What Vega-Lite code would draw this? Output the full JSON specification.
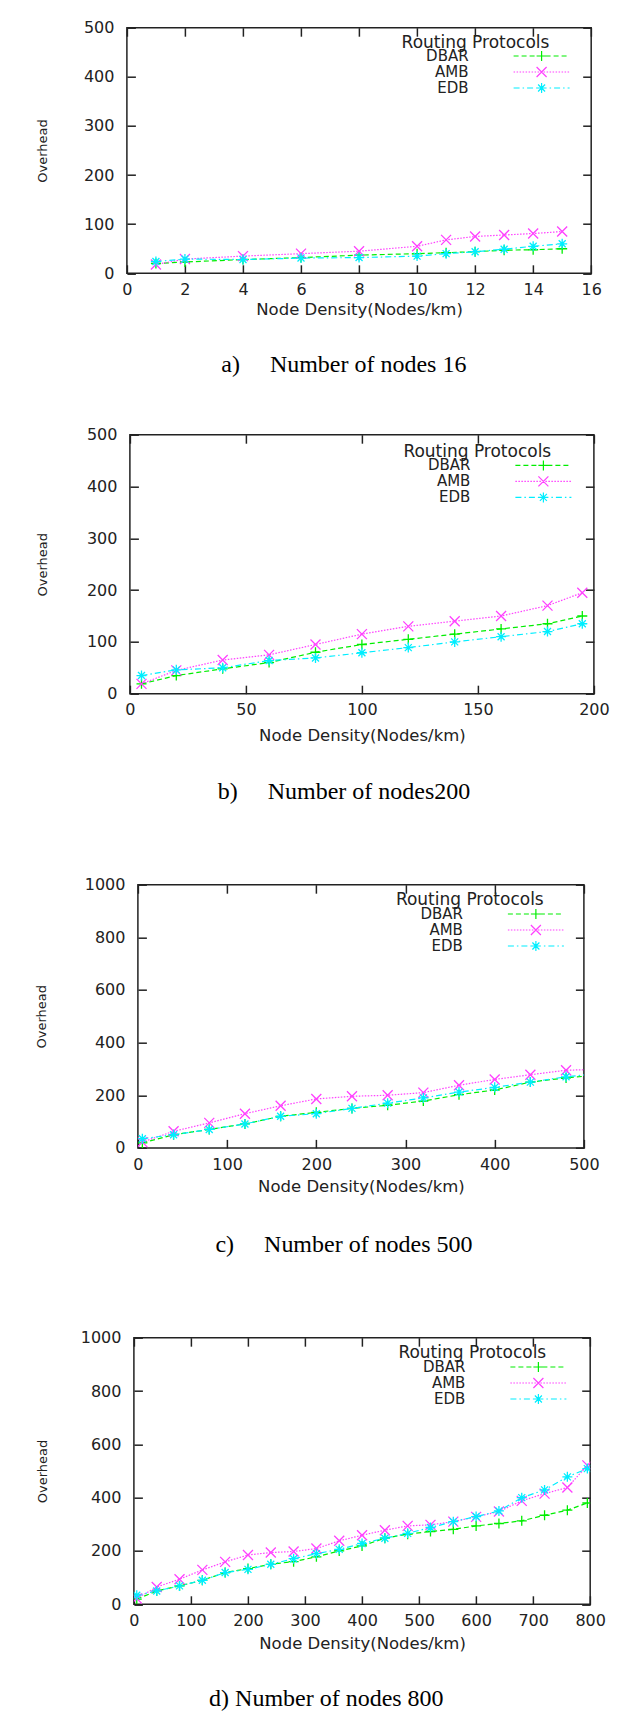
{
  "$schema": "https://vega.github.io/schema/vega-lite/v6.json",
  "background": "white",
  "padding": {"left": 24.9, "top": 18.7, "right": 5, "bottom": 0},
  "spacing": 47,
  "resolve": {"scale": {"color": "independent"}, "legend": {"color": "independent"}},
  "datasets": {
    "a": [
      {"protocol": "DBAR", "density": 1, "overhead": 20}, {"protocol": "DBAR", "density": 2, "overhead": 23}, {"protocol": "DBAR", "density": 4, "overhead": 28}, {"protocol": "DBAR", "density": 6, "overhead": 32}, {"protocol": "DBAR", "density": 8, "overhead": 37}, {"protocol": "DBAR", "density": 10, "overhead": 40}, {"protocol": "DBAR", "density": 11, "overhead": 42}, {"protocol": "DBAR", "density": 12, "overhead": 44}, {"protocol": "DBAR", "density": 13, "overhead": 47}, {"protocol": "DBAR", "density": 14, "overhead": 48}, {"protocol": "DBAR", "density": 15, "overhead": 50},
      {"protocol": "AMB", "density": 1, "overhead": 18}, {"protocol": "AMB", "density": 2, "overhead": 29}, {"protocol": "AMB", "density": 4, "overhead": 35}, {"protocol": "AMB", "density": 6, "overhead": 40}, {"protocol": "AMB", "density": 8, "overhead": 45}, {"protocol": "AMB", "density": 10, "overhead": 55}, {"protocol": "AMB", "density": 11, "overhead": 68}, {"protocol": "AMB", "density": 12, "overhead": 75}, {"protocol": "AMB", "density": 13, "overhead": 78}, {"protocol": "AMB", "density": 14, "overhead": 81}, {"protocol": "AMB", "density": 15, "overhead": 85},
      {"protocol": "EDB", "density": 1, "overhead": 24}, {"protocol": "EDB", "density": 2, "overhead": 29}, {"protocol": "EDB", "density": 4, "overhead": 28}, {"protocol": "EDB", "density": 6, "overhead": 31}, {"protocol": "EDB", "density": 8, "overhead": 32}, {"protocol": "EDB", "density": 10, "overhead": 35}, {"protocol": "EDB", "density": 11, "overhead": 40}, {"protocol": "EDB", "density": 12, "overhead": 44}, {"protocol": "EDB", "density": 13, "overhead": 49}, {"protocol": "EDB", "density": 14, "overhead": 55}, {"protocol": "EDB", "density": 15, "overhead": 60}
    ],
    "b": [
      {"protocol": "DBAR", "density": 5, "overhead": 19}, {"protocol": "DBAR", "density": 20, "overhead": 35}, {"protocol": "DBAR", "density": 40, "overhead": 48}, {"protocol": "DBAR", "density": 60, "overhead": 60}, {"protocol": "DBAR", "density": 80, "overhead": 80}, {"protocol": "DBAR", "density": 100, "overhead": 95}, {"protocol": "DBAR", "density": 120, "overhead": 105}, {"protocol": "DBAR", "density": 140, "overhead": 115}, {"protocol": "DBAR", "density": 160, "overhead": 125}, {"protocol": "DBAR", "density": 180, "overhead": 135}, {"protocol": "DBAR", "density": 195, "overhead": 150},
      {"protocol": "AMB", "density": 5, "overhead": 19}, {"protocol": "AMB", "density": 20, "overhead": 45}, {"protocol": "AMB", "density": 40, "overhead": 65}, {"protocol": "AMB", "density": 60, "overhead": 75}, {"protocol": "AMB", "density": 80, "overhead": 95}, {"protocol": "AMB", "density": 100, "overhead": 115}, {"protocol": "AMB", "density": 120, "overhead": 130}, {"protocol": "AMB", "density": 140, "overhead": 140}, {"protocol": "AMB", "density": 160, "overhead": 150}, {"protocol": "AMB", "density": 180, "overhead": 170}, {"protocol": "AMB", "density": 195, "overhead": 195},
      {"protocol": "EDB", "density": 5, "overhead": 35}, {"protocol": "EDB", "density": 20, "overhead": 46}, {"protocol": "EDB", "density": 40, "overhead": 50}, {"protocol": "EDB", "density": 60, "overhead": 64}, {"protocol": "EDB", "density": 80, "overhead": 69}, {"protocol": "EDB", "density": 100, "overhead": 79}, {"protocol": "EDB", "density": 120, "overhead": 89}, {"protocol": "EDB", "density": 140, "overhead": 100}, {"protocol": "EDB", "density": 160, "overhead": 110}, {"protocol": "EDB", "density": 180, "overhead": 120}, {"protocol": "EDB", "density": 195, "overhead": 135}
    ],
    "c": [
      {"protocol": "DBAR", "density": 5, "overhead": 19}, {"protocol": "DBAR", "density": 40, "overhead": 50}, {"protocol": "DBAR", "density": 80, "overhead": 70}, {"protocol": "DBAR", "density": 120, "overhead": 91}, {"protocol": "DBAR", "density": 160, "overhead": 120}, {"protocol": "DBAR", "density": 200, "overhead": 135}, {"protocol": "DBAR", "density": 240, "overhead": 150}, {"protocol": "DBAR", "density": 280, "overhead": 162}, {"protocol": "DBAR", "density": 320, "overhead": 178}, {"protocol": "DBAR", "density": 360, "overhead": 202}, {"protocol": "DBAR", "density": 400, "overhead": 220}, {"protocol": "DBAR", "density": 440, "overhead": 250}, {"protocol": "DBAR", "density": 480, "overhead": 266}, {"protocol": "DBAR", "density": 520, "overhead": 278},
      {"protocol": "AMB", "density": 5, "overhead": 22}, {"protocol": "AMB", "density": 40, "overhead": 63}, {"protocol": "AMB", "density": 80, "overhead": 95}, {"protocol": "AMB", "density": 120, "overhead": 130}, {"protocol": "AMB", "density": 160, "overhead": 160}, {"protocol": "AMB", "density": 200, "overhead": 186}, {"protocol": "AMB", "density": 240, "overhead": 196}, {"protocol": "AMB", "density": 280, "overhead": 200}, {"protocol": "AMB", "density": 320, "overhead": 210}, {"protocol": "AMB", "density": 360, "overhead": 238}, {"protocol": "AMB", "density": 400, "overhead": 260}, {"protocol": "AMB", "density": 440, "overhead": 278}, {"protocol": "AMB", "density": 480, "overhead": 295}, {"protocol": "AMB", "density": 520, "overhead": 299},
      {"protocol": "EDB", "density": 5, "overhead": 35}, {"protocol": "EDB", "density": 40, "overhead": 50}, {"protocol": "EDB", "density": 80, "overhead": 70}, {"protocol": "EDB", "density": 120, "overhead": 91}, {"protocol": "EDB", "density": 160, "overhead": 120}, {"protocol": "EDB", "density": 200, "overhead": 130}, {"protocol": "EDB", "density": 240, "overhead": 150}, {"protocol": "EDB", "density": 280, "overhead": 170}, {"protocol": "EDB", "density": 320, "overhead": 190}, {"protocol": "EDB", "density": 360, "overhead": 212}, {"protocol": "EDB", "density": 400, "overhead": 230}, {"protocol": "EDB", "density": 440, "overhead": 250}, {"protocol": "EDB", "density": 480, "overhead": 270}, {"protocol": "EDB", "density": 520, "overhead": 284}
    ],
    "d": [
      {"protocol": "DBAR", "density": 5, "overhead": 19}, {"protocol": "DBAR", "density": 40, "overhead": 50}, {"protocol": "DBAR", "density": 80, "overhead": 69}, {"protocol": "DBAR", "density": 120, "overhead": 90}, {"protocol": "DBAR", "density": 160, "overhead": 119}, {"protocol": "DBAR", "density": 200, "overhead": 134}, {"protocol": "DBAR", "density": 240, "overhead": 150}, {"protocol": "DBAR", "density": 280, "overhead": 160}, {"protocol": "DBAR", "density": 320, "overhead": 178}, {"protocol": "DBAR", "density": 360, "overhead": 200}, {"protocol": "DBAR", "density": 400, "overhead": 219}, {"protocol": "DBAR", "density": 440, "overhead": 248}, {"protocol": "DBAR", "density": 480, "overhead": 263}, {"protocol": "DBAR", "density": 520, "overhead": 273}, {"protocol": "DBAR", "density": 560, "overhead": 281}, {"protocol": "DBAR", "density": 600, "overhead": 294}, {"protocol": "DBAR", "density": 640, "overhead": 303}, {"protocol": "DBAR", "density": 680, "overhead": 313}, {"protocol": "DBAR", "density": 720, "overhead": 334}, {"protocol": "DBAR", "density": 760, "overhead": 353}, {"protocol": "DBAR", "density": 795, "overhead": 380},
      {"protocol": "AMB", "density": 5, "overhead": 22}, {"protocol": "AMB", "density": 40, "overhead": 65}, {"protocol": "AMB", "density": 80, "overhead": 94}, {"protocol": "AMB", "density": 120, "overhead": 129}, {"protocol": "AMB", "density": 160, "overhead": 159}, {"protocol": "AMB", "density": 200, "overhead": 185}, {"protocol": "AMB", "density": 240, "overhead": 194}, {"protocol": "AMB", "density": 280, "overhead": 198}, {"protocol": "AMB", "density": 320, "overhead": 209}, {"protocol": "AMB", "density": 360, "overhead": 238}, {"protocol": "AMB", "density": 400, "overhead": 259}, {"protocol": "AMB", "density": 440, "overhead": 278}, {"protocol": "AMB", "density": 480, "overhead": 294}, {"protocol": "AMB", "density": 520, "overhead": 298}, {"protocol": "AMB", "density": 560, "overhead": 310}, {"protocol": "AMB", "density": 600, "overhead": 328}, {"protocol": "AMB", "density": 640, "overhead": 348}, {"protocol": "AMB", "density": 680, "overhead": 388}, {"protocol": "AMB", "density": 720, "overhead": 415}, {"protocol": "AMB", "density": 760, "overhead": 438}, {"protocol": "AMB", "density": 795, "overhead": 521},
      {"protocol": "EDB", "density": 5, "overhead": 34}, {"protocol": "EDB", "density": 40, "overhead": 50}, {"protocol": "EDB", "density": 80, "overhead": 69}, {"protocol": "EDB", "density": 120, "overhead": 90}, {"protocol": "EDB", "density": 160, "overhead": 119}, {"protocol": "EDB", "density": 200, "overhead": 131}, {"protocol": "EDB", "density": 240, "overhead": 150}, {"protocol": "EDB", "density": 280, "overhead": 171}, {"protocol": "EDB", "density": 320, "overhead": 190}, {"protocol": "EDB", "density": 360, "overhead": 206}, {"protocol": "EDB", "density": 400, "overhead": 228}, {"protocol": "EDB", "density": 440, "overhead": 248}, {"protocol": "EDB", "density": 480, "overhead": 266}, {"protocol": "EDB", "density": 520, "overhead": 288}, {"protocol": "EDB", "density": 560, "overhead": 310}, {"protocol": "EDB", "density": 600, "overhead": 329}, {"protocol": "EDB", "density": 640, "overhead": 350}, {"protocol": "EDB", "density": 680, "overhead": 400}, {"protocol": "EDB", "density": 720, "overhead": 429}, {"protocol": "EDB", "density": 760, "overhead": 478}, {"protocol": "EDB", "density": 795, "overhead": 509}
    ]
  },
  "vconcat": [
    {
      "spacing": 0,
      "resolve": {"scale": {"color": "independent"}, "legend": {"color": "independent"}},
      "hconcat": [
        {"width": 10, "height": 1, "data": {"values": []}, "mark": {"type": "point"}, "view": {"stroke": null}},
        {
          "width": 464.3, "height": 245.6,
          "data": {"name": "a"},
          "title": {"text": "a)\u00a0\u00a0\u00a0\u00a0\u00a0Number of nodes 16", "dx": -15.2, "offset": 35.8},
          "resolve": {"axis": {"x": "independent", "y": "independent"}},
          "encoding": {
            "color": {"field": "protocol", "type": "nominal", "scale": {"domain": ["DBAR", "AMB", "EDB"], "range": ["#00ee00", "#ff40ff", "#00eeff"]},
              "legend": {"title": "Routing Protocols", "orient": "none", "legendX": 274.7, "legendY": 6.8, "encode": {"symbols": {"update": {"shape": {"signal": "datum.value === 'DBAR' ? 'M-1.5,0H-0.5M0.1,0H1.1M1.7,0H2.7M3.3,0H4.3M4.9,0H5.9M6.5,0H7.5M8.1,0H9.1M3.1,0H5.1M4.1,-1V1' : datum.value === 'AMB' ? 'M-1.5,0H-1.2M-0.9,0H-0.6M-0.3,0H0M0.3,0H0.6M0.9,0H1.2M1.5,0H1.8M2.1,0H2.4M2.7,0H3M3.3,0H3.6M3.9,0H4.2M4.5,0H4.8M5.1,0H5.4M5.7,0H6M6.3,0H6.6M6.9,0H7.2M7.5,0H7.8M8.1,0H8.4M8.7,0H9M9.3,0H9.6M3.1,-1L5.1,1M3.1,1L5.1,-1' : 'M-1.5,0H-0.3M0.3,0H0.6M1.2,0H2.4M3,0H3.3M3.9,0H5.1M5.7,0H6M6.6,0H7.8M8.4,0H8.7M9.3,0H9.7M3.1,0H5.1M4.1,-1V1M3.4,-0.7L4.8,0.7M3.4,0.7L4.8,-0.7'"}}}, "title": {"update": {"dx": {"value": -112}}}}}
            }
          },
          "layer": [
            {"mark": {"type": "line", "strokeWidth": 1.2, "clip": true},
             "encoding": {
               "x": {"field": "density", "type": "quantitative", "scale": {"domain": [0, 16], "nice": false}, "axis": {"values": [0, 2, 4, 6, 8, 10, 12, 14, 16], "title": "Node Density(Nodes/km)", "titlePadding": 3.5}},
               "y": {"field": "overhead", "type": "quantitative", "scale": {"domain": [0, 500], "nice": false}, "axis": {"values": [0, 100, 200, 300, 400, 500], "format": "d", "title": "Overhead", "titlePadding": 33.9}},
               "strokeDash": {"field": "protocol", "type": "nominal", "scale": {"domain": ["DBAR", "AMB", "EDB"], "range": [[5, 3], [1.5, 1.5], [6, 3, 1.5, 3]]}, "legend": null}
             }},
            {"transform": [{"filter": "datum.protocol === 'DBAR'"}],
             "mark": {"type": "point", "shape": "M-1,0H1M0,-1V1", "filled": false, "size": 100, "strokeWidth": 1.3, "opacity": 1, "clip": true},
             "encoding": {
               "x": {"field": "density", "type": "quantitative", "scale": {"domain": [0, 16], "nice": false}, "axis": {"orient": "top", "values": [0, 2, 4, 6, 8, 10, 12, 14, 16], "labels": false, "title": null}},
               "y": {"field": "overhead", "type": "quantitative", "scale": {"domain": [0, 500], "nice": false}, "axis": {"orient": "right", "values": [0, 100, 200, 300, 400, 500], "labels": false, "title": null}}
             }},
            {"transform": [{"filter": "datum.protocol === 'AMB'"}],
             "mark": {"type": "point", "shape": "M-1,-1L1,1M-1,1L1,-1", "filled": false, "size": 100, "strokeWidth": 1.3, "opacity": 1, "clip": true},
             "encoding": {
               "x": {"field": "density", "type": "quantitative", "scale": {"domain": [0, 16], "nice": false}, "axis": null},
               "y": {"field": "overhead", "type": "quantitative", "scale": {"domain": [0, 500], "nice": false}, "axis": null}
             }},
            {"transform": [{"filter": "datum.protocol === 'EDB'"}],
             "mark": {"type": "point", "shape": "M-1,0H1M0,-1V1M-0.7,-0.7L0.7,0.7M-0.7,0.7L0.7,-0.7", "filled": false, "size": 100, "strokeWidth": 1.3, "opacity": 1, "clip": true},
             "encoding": {
               "x": {"field": "density", "type": "quantitative", "scale": {"domain": [0, 16], "nice": false}, "axis": null},
               "y": {"field": "overhead", "type": "quantitative", "scale": {"domain": [0, 500], "nice": false}, "axis": null}
             }}
          ]
        }
      ]
    },
    {
      "spacing": 70,
      "resolve": {"scale": {"color": "independent"}, "legend": {"color": "independent"}},
      "vconcat": [
        {
          "spacing": 0,
          "resolve": {"scale": {"color": "independent"}, "legend": {"color": "independent"}},
          "hconcat": [
            {"width": 10, "height": 1, "data": {"values": []}, "mark": {"type": "point"}, "view": {"stroke": null}},
            {
              "width": 464, "height": 259,
              "data": {"name": "b"},
              "title": {"text": "b)\u00a0\u00a0\u00a0\u00a0\u00a0Number of nodes200", "dx": -17.9, "offset": 36.2},
              "resolve": {"axis": {"x": "independent", "y": "independent"}},
              "encoding": {
                "color": {"field": "protocol", "type": "nominal", "scale": {"domain": ["DBAR", "AMB", "EDB"], "range": ["#00ee00", "#ff40ff", "#00eeff"]},
                  "legend": {"title": "Routing Protocols", "orient": "none", "legendX": 273.5, "legendY": 9.2, "encode": {"symbols": {"update": {"shape": {"signal": "datum.value === 'DBAR' ? 'M-1.5,0H-0.5M0.1,0H1.1M1.7,0H2.7M3.3,0H4.3M4.9,0H5.9M6.5,0H7.5M8.1,0H9.1M3.1,0H5.1M4.1,-1V1' : datum.value === 'AMB' ? 'M-1.5,0H-1.2M-0.9,0H-0.6M-0.3,0H0M0.3,0H0.6M0.9,0H1.2M1.5,0H1.8M2.1,0H2.4M2.7,0H3M3.3,0H3.6M3.9,0H4.2M4.5,0H4.8M5.1,0H5.4M5.7,0H6M6.3,0H6.6M6.9,0H7.2M7.5,0H7.8M8.1,0H8.4M8.7,0H9M9.3,0H9.6M3.1,-1L5.1,1M3.1,1L5.1,-1' : 'M-1.5,0H-0.3M0.3,0H0.6M1.2,0H2.4M3,0H3.3M3.9,0H5.1M5.7,0H6M6.6,0H7.8M8.4,0H8.7M9.3,0H9.7M3.1,0H5.1M4.1,-1V1M3.4,-0.7L4.8,0.7M3.4,0.7L4.8,-0.7'"}}}, "title": {"update": {"dx": {"value": -112}}}}}
                }
              },
              "layer": [
                {"mark": {"type": "line", "strokeWidth": 1.2, "clip": true},
                 "encoding": {
                   "x": {"field": "density", "type": "quantitative", "scale": {"domain": [0, 200], "nice": false}, "axis": {"values": [0, 50, 100, 150, 200], "title": "Node Density(Nodes/km)", "titlePadding": 9.5}},
                   "y": {"field": "overhead", "type": "quantitative", "scale": {"domain": [0, 500], "nice": false}, "axis": {"values": [0, 100, 200, 300, 400, 500], "format": "d", "title": "Overhead", "titlePadding": 37.1}},
                   "strokeDash": {"field": "protocol", "type": "nominal", "scale": {"domain": ["DBAR", "AMB", "EDB"], "range": [[5, 3], [1.5, 1.5], [6, 3, 1.5, 3]]}, "legend": null}
                 }},
                {"transform": [{"filter": "datum.protocol === 'DBAR'"}],
                 "mark": {"type": "point", "shape": "M-1,0H1M0,-1V1", "filled": false, "size": 100, "strokeWidth": 1.3, "opacity": 1, "clip": true},
                 "encoding": {
                   "x": {"field": "density", "type": "quantitative", "scale": {"domain": [0, 200], "nice": false}, "axis": {"orient": "top", "values": [0, 50, 100, 150, 200], "labels": false, "title": null}},
                   "y": {"field": "overhead", "type": "quantitative", "scale": {"domain": [0, 500], "nice": false}, "axis": {"orient": "right", "values": [0, 100, 200, 300, 400, 500], "labels": false, "title": null}}
                 }},
                {"transform": [{"filter": "datum.protocol === 'AMB'"}],
                 "mark": {"type": "point", "shape": "M-1,-1L1,1M-1,1L1,-1", "filled": false, "size": 100, "strokeWidth": 1.3, "opacity": 1, "clip": true},
                 "encoding": {
                   "x": {"field": "density", "type": "quantitative", "scale": {"domain": [0, 200], "nice": false}, "axis": null},
                   "y": {"field": "overhead", "type": "quantitative", "scale": {"domain": [0, 500], "nice": false}, "axis": null}
                 }},
                {"transform": [{"filter": "datum.protocol === 'EDB'"}],
                 "mark": {"type": "point", "shape": "M-1,0H1M0,-1V1M-0.7,-0.7L0.7,0.7M-0.7,0.7L0.7,-0.7", "filled": false, "size": 100, "strokeWidth": 1.3, "opacity": 1, "clip": true},
                 "encoding": {
                   "x": {"field": "density", "type": "quantitative", "scale": {"domain": [0, 200], "nice": false}, "axis": null},
                   "y": {"field": "overhead", "type": "quantitative", "scale": {"domain": [0, 500], "nice": false}, "axis": null}
                 }}
              ]
            }
          ]
        },
        {
          "spacing": 0,
          "resolve": {"scale": {"color": "independent"}, "legend": {"color": "independent"}},
          "hconcat": [
            {"width": 10, "height": 1, "data": {"values": []}, "mark": {"type": "point"}, "view": {"stroke": null}},
            {
              "width": 446, "height": 263.2,
              "data": {"name": "c"},
              "title": {"text": "c)\u00a0\u00a0\u00a0\u00a0\u00a0Number of nodes 500", "dx": -16.9, "offset": 38.2},
              "resolve": {"axis": {"x": "independent", "y": "independent"}},
              "encoding": {
                "color": {"field": "protocol", "type": "nominal", "scale": {"domain": ["DBAR", "AMB", "EDB"], "range": ["#00ee00", "#ff40ff", "#00eeff"]},
                  "legend": {"title": "Routing Protocols", "orient": "none", "legendX": 258, "legendY": 7.8, "encode": {"symbols": {"update": {"shape": {"signal": "datum.value === 'DBAR' ? 'M-1.5,0H-0.5M0.1,0H1.1M1.7,0H2.7M3.3,0H4.3M4.9,0H5.9M6.5,0H7.5M8.1,0H9.1M3.1,0H5.1M4.1,-1V1' : datum.value === 'AMB' ? 'M-1.5,0H-1.2M-0.9,0H-0.6M-0.3,0H0M0.3,0H0.6M0.9,0H1.2M1.5,0H1.8M2.1,0H2.4M2.7,0H3M3.3,0H3.6M3.9,0H4.2M4.5,0H4.8M5.1,0H5.4M5.7,0H6M6.3,0H6.6M6.9,0H7.2M7.5,0H7.8M8.1,0H8.4M8.7,0H9M9.3,0H9.6M3.1,-1L5.1,1M3.1,1L5.1,-1' : 'M-1.5,0H-0.3M0.3,0H0.6M1.2,0H2.4M3,0H3.3M3.9,0H5.1M5.7,0H6M6.6,0H7.8M8.4,0H8.7M9.3,0H9.7M3.1,0H5.1M4.1,-1V1M3.4,-0.7L4.8,0.7M3.4,0.7L4.8,-0.7'"}}}, "title": {"update": {"dx": {"value": -112}}}}}
                }
              },
              "layer": [
                {"mark": {"type": "line", "strokeWidth": 1.2, "clip": true},
                 "encoding": {
                   "x": {"field": "density", "type": "quantitative", "scale": {"domain": [0, 500], "nice": false}, "axis": {"values": [0, 100, 200, 300, 400, 500], "title": "Node Density(Nodes/km)", "titlePadding": 6.3}},
                   "y": {"field": "overhead", "type": "quantitative", "scale": {"domain": [0, 1000], "nice": false}, "axis": {"values": [0, 200, 400, 600, 800, 1000], "format": "d", "title": "Overhead", "titlePadding": 35.4}},
                   "strokeDash": {"field": "protocol", "type": "nominal", "scale": {"domain": ["DBAR", "AMB", "EDB"], "range": [[5, 3], [1.5, 1.5], [6, 3, 1.5, 3]]}, "legend": null}
                 }},
                {"transform": [{"filter": "datum.protocol === 'DBAR'"}],
                 "mark": {"type": "point", "shape": "M-1,0H1M0,-1V1", "filled": false, "size": 100, "strokeWidth": 1.3, "opacity": 1, "clip": true},
                 "encoding": {
                   "x": {"field": "density", "type": "quantitative", "scale": {"domain": [0, 500], "nice": false}, "axis": {"orient": "top", "values": [0, 100, 200, 300, 400, 500], "labels": false, "title": null}},
                   "y": {"field": "overhead", "type": "quantitative", "scale": {"domain": [0, 1000], "nice": false}, "axis": {"orient": "right", "values": [0, 200, 400, 600, 800, 1000], "labels": false, "title": null}}
                 }},
                {"transform": [{"filter": "datum.protocol === 'AMB'"}],
                 "mark": {"type": "point", "shape": "M-1,-1L1,1M-1,1L1,-1", "filled": false, "size": 100, "strokeWidth": 1.3, "opacity": 1, "clip": true},
                 "encoding": {
                   "x": {"field": "density", "type": "quantitative", "scale": {"domain": [0, 500], "nice": false}, "axis": null},
                   "y": {"field": "overhead", "type": "quantitative", "scale": {"domain": [0, 1000], "nice": false}, "axis": null}
                 }},
                {"transform": [{"filter": "datum.protocol === 'EDB'"}],
                 "mark": {"type": "point", "shape": "M-1,0H1M0,-1V1M-0.7,-0.7L0.7,0.7M-0.7,0.7L0.7,-0.7", "filled": false, "size": 100, "strokeWidth": 1.3, "opacity": 1, "clip": true},
                 "encoding": {
                   "x": {"field": "density", "type": "quantitative", "scale": {"domain": [0, 500], "nice": false}, "axis": null},
                   "y": {"field": "overhead", "type": "quantitative", "scale": {"domain": [0, 1000], "nice": false}, "axis": null}
                 }}
              ]
            }
          ]
        },
        {
          "spacing": 0,
          "resolve": {"scale": {"color": "independent"}, "legend": {"color": "independent"}},
          "hconcat": [
            {"width": 10, "height": 1, "data": {"values": []}, "mark": {"type": "point"}, "view": {"stroke": null}},
            {
              "width": 456.3, "height": 266.6,
              "data": {"name": "d"},
              "title": {"text": "d) Number of nodes 800", "dx": -35.7, "offset": 34.5},
              "resolve": {"axis": {"x": "independent", "y": "independent"}},
              "encoding": {
                "color": {"field": "protocol", "type": "nominal", "scale": {"domain": ["DBAR", "AMB", "EDB"], "range": ["#00ee00", "#ff40ff", "#00eeff"]},
                  "legend": {"title": "Routing Protocols", "orient": "none", "legendX": 264.5, "legendY": 7.8, "encode": {"symbols": {"update": {"shape": {"signal": "datum.value === 'DBAR' ? 'M-1.5,0H-0.5M0.1,0H1.1M1.7,0H2.7M3.3,0H4.3M4.9,0H5.9M6.5,0H7.5M8.1,0H9.1M3.1,0H5.1M4.1,-1V1' : datum.value === 'AMB' ? 'M-1.5,0H-1.2M-0.9,0H-0.6M-0.3,0H0M0.3,0H0.6M0.9,0H1.2M1.5,0H1.8M2.1,0H2.4M2.7,0H3M3.3,0H3.6M3.9,0H4.2M4.5,0H4.8M5.1,0H5.4M5.7,0H6M6.3,0H6.6M6.9,0H7.2M7.5,0H7.8M8.1,0H8.4M8.7,0H9M9.3,0H9.6M3.1,-1L5.1,1M3.1,1L5.1,-1' : 'M-1.5,0H-0.3M0.3,0H0.6M1.2,0H2.4M3,0H3.3M3.9,0H5.1M5.7,0H6M6.6,0H7.8M8.4,0H8.7M9.3,0H9.7M3.1,0H5.1M4.1,-1V1M3.4,-0.7L4.8,0.7M3.4,0.7L4.8,-0.7'"}}}, "title": {"update": {"dx": {"value": -112}}}}}
                }
              },
              "layer": [
                {"mark": {"type": "line", "strokeWidth": 1.2, "clip": true},
                 "encoding": {
                   "x": {"field": "density", "type": "quantitative", "scale": {"domain": [0, 800], "nice": false}, "axis": {"values": [0, 100, 200, 300, 400, 500, 600, 700, 800], "title": "Node Density(Nodes/km)", "titlePadding": 7.2}},
                   "y": {"field": "overhead", "type": "quantitative", "scale": {"domain": [0, 1000], "nice": false}, "axis": {"values": [0, 200, 400, 600, 800, 1000], "format": "d", "title": "Overhead", "titlePadding": 30.9}},
                   "strokeDash": {"field": "protocol", "type": "nominal", "scale": {"domain": ["DBAR", "AMB", "EDB"], "range": [[5, 3], [1.5, 1.5], [6, 3, 1.5, 3]]}, "legend": null}
                 }},
                {"transform": [{"filter": "datum.protocol === 'DBAR'"}],
                 "mark": {"type": "point", "shape": "M-1,0H1M0,-1V1", "filled": false, "size": 100, "strokeWidth": 1.3, "opacity": 1, "clip": true},
                 "encoding": {
                   "x": {"field": "density", "type": "quantitative", "scale": {"domain": [0, 800], "nice": false}, "axis": {"orient": "top", "values": [0, 100, 200, 300, 400, 500, 600, 700, 800], "labels": false, "title": null}},
                   "y": {"field": "overhead", "type": "quantitative", "scale": {"domain": [0, 1000], "nice": false}, "axis": {"orient": "right", "values": [0, 200, 400, 600, 800, 1000], "labels": false, "title": null}}
                 }},
                {"transform": [{"filter": "datum.protocol === 'AMB'"}],
                 "mark": {"type": "point", "shape": "M-1,-1L1,1M-1,1L1,-1", "filled": false, "size": 100, "strokeWidth": 1.3, "opacity": 1, "clip": true},
                 "encoding": {
                   "x": {"field": "density", "type": "quantitative", "scale": {"domain": [0, 800], "nice": false}, "axis": null},
                   "y": {"field": "overhead", "type": "quantitative", "scale": {"domain": [0, 1000], "nice": false}, "axis": null}
                 }},
                {"transform": [{"filter": "datum.protocol === 'EDB'"}],
                 "mark": {"type": "point", "shape": "M-1,0H1M0,-1V1M-0.7,-0.7L0.7,0.7M-0.7,0.7L0.7,-0.7", "filled": false, "size": 100, "strokeWidth": 1.3, "opacity": 1, "clip": true},
                 "encoding": {
                   "x": {"field": "density", "type": "quantitative", "scale": {"domain": [0, 800], "nice": false}, "axis": null},
                   "y": {"field": "overhead", "type": "quantitative", "scale": {"domain": [0, 1000], "nice": false}, "axis": null}
                 }}
              ]
            }
          ]
        }
      ]
    }
  ],
  "config": {
    "font": "DejaVu Sans",
    "view": {"stroke": "#222", "strokeWidth": 1.5},
    "axis": {"grid": false, "domain": false, "tickSize": -8.5, "tickWidth": 1.5, "tickColor": "#222", "labelFont": "DejaVu Sans", "labelFontSize": 16, "labelColor": "#222", "labelFlush": false, "labelOverlap": false, "titleFont": "DejaVu Sans", "titleFontWeight": "normal", "titleColor": "#222"},
    "axisX": {"labelPadding": 16.7, "titleFontSize": 16.5},
    "axisY": {"labelPadding": 21.5, "titleFontSize": 13},
    "title": {"font": "Liberation Serif", "fontSize": 24, "fontWeight": "normal", "color": "#000", "orient": "bottom", "anchor": "middle", "frame": "group"},
    "legend": {"padding": 0, "titleFont": "DejaVu Sans", "titleFontSize": 17, "titleFontWeight": "normal", "titleColor": "#222", "titlePadding": -3, "labelFont": "DejaVu Sans", "labelFontSize": 15, "labelColor": "#222", "labelAlign": "right", "labelOffset": -60, "symbolSize": 100, "symbolStrokeWidth": 1.2, "symbolFillColor": "transparent", "rowPadding": -6}
  }
}
